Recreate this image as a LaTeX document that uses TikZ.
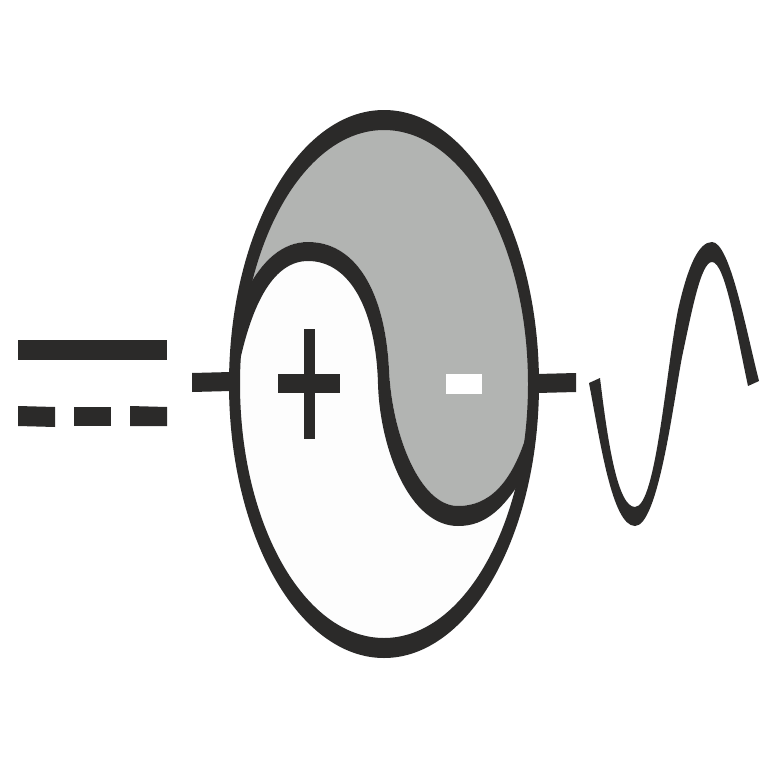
\documentclass[tikz,border=0pt]{standalone}
\definecolor{ink}{HTML}{2B2A29}
\definecolor{greyfill}{HTML}{B2B4B2}
\definecolor{paper}{HTML}{FDFDFD}
\tikzset{bar/.style={fill=ink,draw=none}}
\begin{document}
\begin{tikzpicture}[x=0.2845pt,y=-0.2845pt]
\useasboundingbox (0,0) rectangle (768,768);
\fill[white] (0,0) rectangle (768,768);
\fill[paper] (384,384) ellipse [x radius=146,y radius=256];
\begin{scope}
\clip (384,384) ellipse [x radius=146,y radius=256];
% grey half
\fill[greyfill] (246,292) .. controls (262,260) and (283,242) .. (308,242)
 .. controls (355,242) and (385,290) .. (389,370)
 .. controls (392,435) and (420,506) .. (458,506)
 .. controls (488,506) and (512,485) .. (528,430)
 -- (560,100) -- (225,100) -- cycle;
% S band, wider at the top and bottom
\fill[ink] (246,292) .. controls (262,260) and (283,242) .. (308,242)
 .. controls (355,242) and (385,290) .. (389,370)
 .. controls (392,435) and (420,506) .. (458,506)
 .. controls (488,506) and (512,485) .. (528,430)
 -- (530,465) .. controls (505,510) and (485,526) .. (458,526)
 .. controls (410,526) and (380,450) .. (378,384)
 .. controls (376,310) and (350,261) .. (308,261)
 .. controls (275,261) and (252,300) .. (238,370) -- cycle;
\end{scope}
% ring
\fill[ink,even odd rule] (384,384) ellipse [x radius=155,y radius=274]
 (384,384) ellipse [x radius=144,y radius=254];
% plus and minus
\fill[bar] (278,374) rectangle (340,393);
\fill[bar] (304,329) rectangle (315,439);
\fill[white] (446,374) rectangle (482,394);
% leads
\fill[bar] (192,373) -- (231,372) -- (231,391) -- (192,392) -- cycle;
\fill[bar] (537,374) -- (576,373) -- (576,392) -- (537,393) -- cycle;
% DC symbol
\fill[bar] (18,340) rectangle (167,360);
\fill[bar] (18,406) -- (55,407) -- (55,427) -- (18,426) -- cycle;
\fill[bar] (74,407) rectangle (111,426);
\fill[bar] (130,406) -- (167,407) -- (167,426) -- (130,426) -- cycle;
% sine, filled because its width varies
\fill[ink] (600,378) .. controls (608,445) and (618,507) .. (635,507)
 .. controls (656,507) and (666,370) .. (678,310)
 .. controls (688,265) and (699,242) .. (712,242)
 .. controls (730,242) and (746,330) .. (759,381)
 -- (748,386)
 .. controls (736,330) and (725,262) .. (712,262)
 .. controls (701,262) and (692,310) .. (682,357)
 .. controls (673,405) and (658,526) .. (635,526)
 .. controls (612,526) and (600,440) .. (589,383) -- cycle;
\end{tikzpicture}
\end{document}
